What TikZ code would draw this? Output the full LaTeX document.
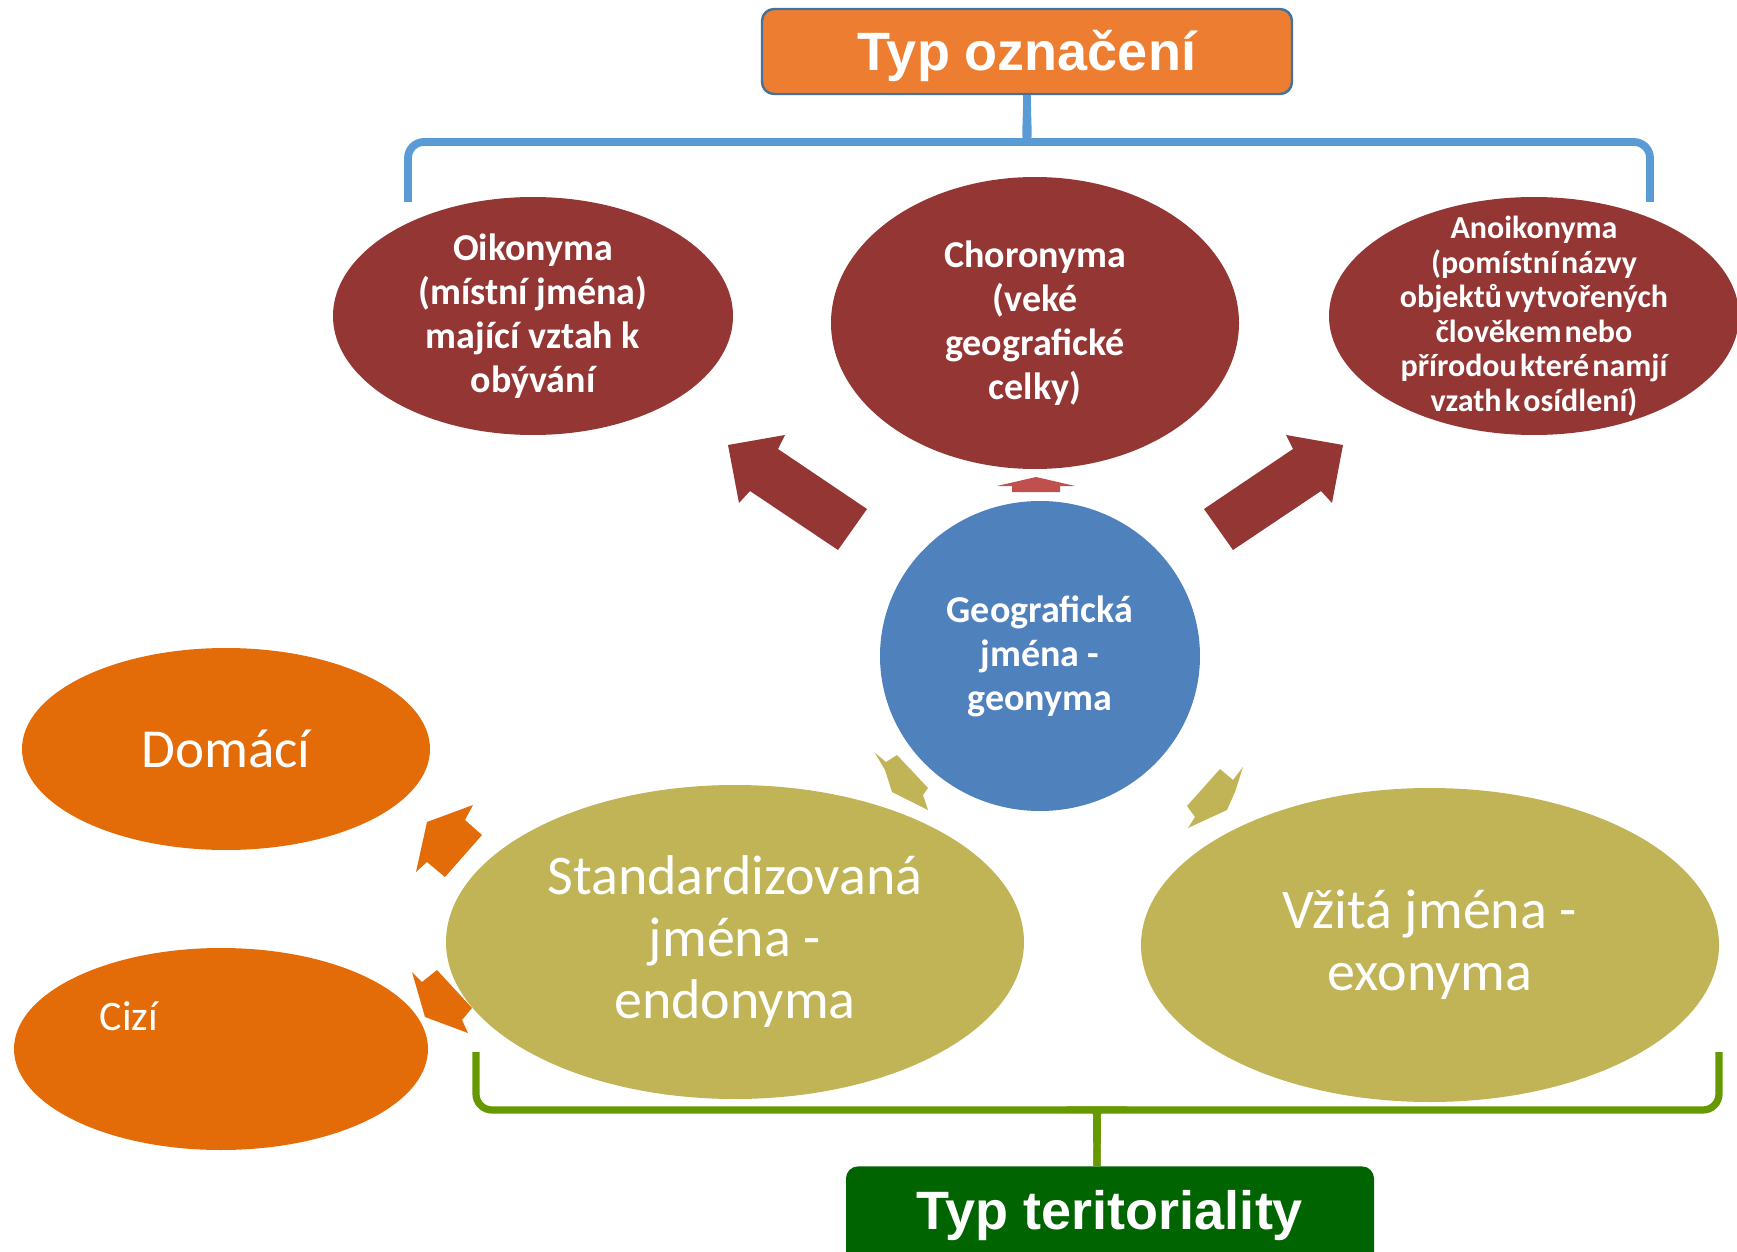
\documentclass[tikz,border=0pt]{standalone}
\usepackage{fontspec}
\setmainfont{Carlito}
\newfontfamily\headfont{Liberation Sans}
\usetikzlibrary{shapes.geometric, positioning}
\definecolor{ellred}{RGB}{148,54,52}
\definecolor{arrred}{RGB}{192,80,77}
\definecolor{geoblue}{RGB}{79,129,189}
\definecolor{terolive}{RGB}{192,180,86}
\definecolor{domorange}{RGB}{227,108,9}
\definecolor{headorange}{RGB}{237,125,49}
\definecolor{headblue}{RGB}{65,113,156}
\definecolor{braceblue}{RGB}{91,155,213}
\definecolor{bracegreen}{RGB}{102,153,0}
\definecolor{terrgreen}{RGB}{0,100,0}
\newcommand\tightwords{\spaceskip=1.6pt\relax}

\tikzset{
  oval/.style={ellipse, inner sep=-12pt, text=white, align=center},
  redoval/.style={oval, fill=ellred, font=\bfseries\fontsize{19}{22}\selectfont},
  oliveoval/.style={oval, fill=terolive, font=\fontsize{28}{31}\selectfont},
  orangeoval/.style={oval, fill=domorange, font=\fontsize{27.5}{30}\selectfont},
  headbox/.style={rectangle, rounded corners=6pt, text=white, text height=19.5pt, font=\headfont\bfseries\fontsize{27}{30}\selectfont},
  bracebar/.style={line width=3.9pt, rounded corners=8pt}
}

\begin{document}
\begin{tikzpicture}[x=0.5pt, y=-0.5pt]
        \clip (0,0) rectangle (1737,1252);

        % block arrows
        \fill [ellred] (728,445) -- (785,435) -- (778,449) -- (867,509) -- (838,550) -- (750,491) -- (739,503) -- cycle;
        \fill [ellred] (1343,445) -- (1286,435) -- (1293,449) -- (1204,509) -- (1233,550) -- (1321,491) -- (1332,503) -- cycle;
        \fill [arrred] (1036,477) -- (1075,486) -- (1060,486) -- (1060,492) -- (1012,492) -- (1012,486) -- (997,486) -- cycle;
        \fill [terolive] (875,753) -- (886,762) -- (897,755) -- (928,788) -- (923,795) -- (928,810) -- (892,792) -- (885,770) -- cycle;
        \fill [terolive] (1243,767) -- (1233,780) -- (1220,769) -- (1187,806) -- (1195,817) -- (1188,828) -- (1227,810) -- (1235,792) -- cycle;
        \fill [domorange] (473,805) -- (465,820) -- (482,835) -- (445,877) -- (427,862) -- (416,872) -- (427,822) -- cycle;
        \fill [domorange] (412,972) -- (422,982) -- (437,970) -- (472,1008) -- (462,1020) -- (468,1033) -- (425,1017) -- cycle;

        \node [headbox, fill=headorange, draw=headblue, line width=1.2pt, text depth=0pt, minimum width=265pt, minimum height=42.5pt] (typ) at (1027,51.5) {Typ označení};

        \node [redoval, minimum width=200pt, minimum height=119pt] (oiko) at (533,316) {Oikonyma\\(místní jména)\\mající vztah k\\obývání};
        \node [redoval, minimum width=204pt, minimum height=146pt] (choro) at (1035,323) {Choronyma\\(veké\\geografické\\celky)};
        \node [redoval, minimum width=205pt, minimum height=119pt, font=\bfseries\fontsize{16}{17.25}\selectfont\tightwords] (anoiko) at (1534,316) {Anoikonyma\\(pomístní názvy\\objektů vytvořených\\člověkem nebo\\přírodou které namjí\\vzath k osídlení)};

        \node [redoval, fill=geoblue, minimum width=160pt, minimum height=155pt] (geo) at (1040,656) {Geografická\\jména -\\geonyma};

        \node [oliveoval, minimum width=289pt, minimum height=157pt] (endo) at (735,942) {Standardizovaná\\jména -\\endonyma};
        \node [oliveoval, minimum width=289pt, minimum height=157pt] (exo) at (1430,945) {Vžitá jména -\\exonyma};

        \node [orangeoval, minimum width=204pt, minimum height=101pt] (domaci) at (226,749) {Domácí};
        \node [orangeoval, minimum width=207pt, minimum height=101pt] (cizi) at (221,1049) {};
        \node [text=white, font=\fontsize{21}{24}\selectfont] (cizilbl) at (129,1016) {Cizí};

        \node [headbox, fill=terrgreen, text depth=16pt, anchor=north, minimum width=264pt, minimum height=60pt] (terr) at (1110,1166) {Typ teritoriality};

        % braces
        \coordinate (bl) at (408,202); \coordinate (br) at (1650,202);
        \coordinate (gl) at (476,1052); \coordinate (gr) at (1719,1052);
        \draw [bracebar, braceblue] (bl) |- (1014,142) .. controls (1024,142) and (1027,132) .. (typ.south);
        \draw [bracebar, braceblue] (br) |- (1040,142) .. controls (1030,142) and (1027,132) .. (typ.south);
        \draw [bracebar, bracegreen, line width=3.6pt] (gl) |- (1085,1110) .. controls (1095,1110) and (1097,1120) .. ([xshift=-6.5pt]terr.north);
        \draw [bracebar, bracegreen, line width=3.6pt] (gr) |- (1109,1110) .. controls (1099,1110) and (1097,1120) .. ([xshift=-6.5pt]terr.north);
\end{tikzpicture}
\end{document}
